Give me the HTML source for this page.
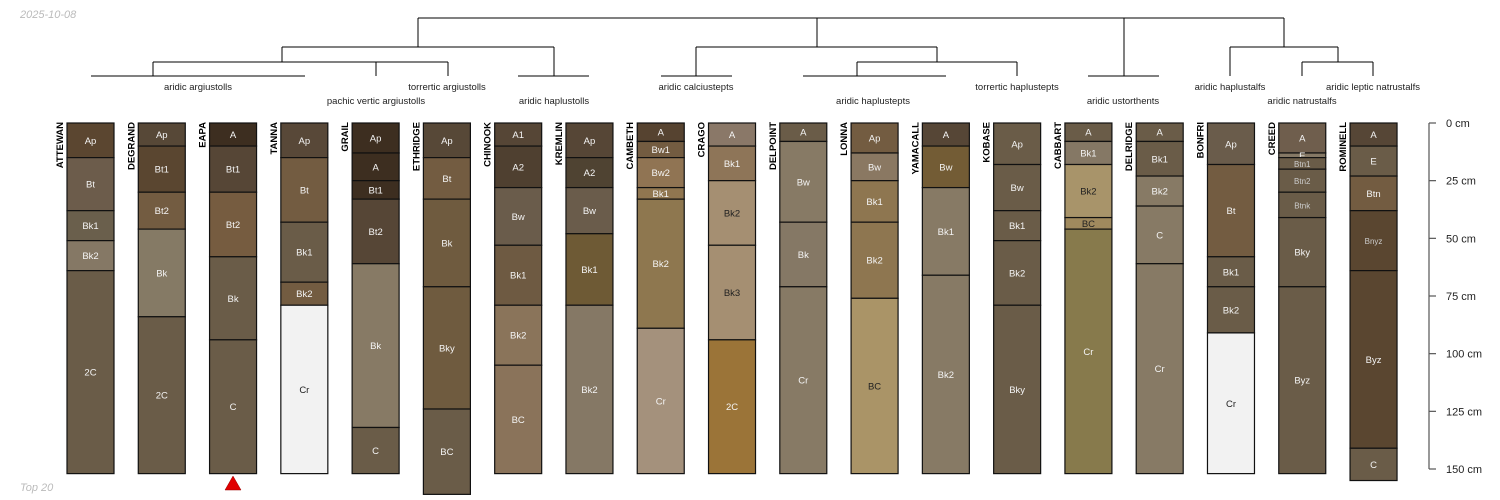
<!DOCTYPE html>
<html><head><meta charset="utf-8">
<style>
html,body{margin:0;padding:0;background:#fff;}
svg{display:block;font-family:"Liberation Sans",sans-serif;}
</style></head>
<body>
<svg id="chart" width="1500" height="500" viewBox="0 0 1500 500">
<text x="20" y="18" font-size="11" font-style="italic" fill="#bbb">2025-10-08</text>
<text x="20" y="491" font-size="11" font-style="italic" fill="#bbb">Top 20</text>
<g id="dendro" stroke="#000" stroke-width="1" fill="none"></g>
<g id="taxa" font-size="9.5" fill="#222" text-anchor="middle"></g>
<g id="profiles"></g>
<g id="axis"></g>
<polygon points="225,490 241,490 233,476" fill="#e00000" stroke="#900" stroke-width="0.5"/>
</svg>
<script>
const profileNames = ["ATTEWAN","DEGRAND","EAPA","TANNA","GRAIL","ETHRIDGE","CHINOOK","KREMLIN","CAMBETH","CRAGO","DELPOINT","LONNA","YAMACALL","KOBASE","CABBART","DELRIDGE","BONFRI","CREED","ROMINELL"];
const horizonNames = [
 ["Ap","Bt","Bk1","Bk2","2C"],
 ["Ap","Bt1","Bt2","Bk","2C"],
 ["A","Bt1","Bt2","Bk","C"],
 ["Ap","Bt","Bk1","Bk2","Cr"],
 ["Ap","A","Bt1","Bt2","Bk","C"],
 ["Ap","Bt","Bk","Bky","BC"],
 ["A1","A2","Bw","Bk1","Bk2","BC"],
 ["Ap","A2","Bw","Bk1","Bk2"],
 ["A","Bw1","Bw2","Bk1","Bk2","Cr"],
 ["A","Bk1","Bk2","Bk3","2C"],
 ["A","Bw","Bk","Cr"],
 ["Ap","Bw","Bk1","Bk2","BC"],
 ["A","Bw","Bk1","Bk2"],
 ["Ap","Bw","Bk1","Bk2","Bky"],
 ["A","Bk1","Bk2","BC","Cr"],
 ["A","Bk1","Bk2","C","Cr"],
 ["Ap","Bt","Bk1","Bk2","Cr"],
 ["A","E","Btn1","Btn2","Btnk","Bky","Byz"],
 ["A","E","Btn","Bnyz","Byz","C"]
];
const horizonBottoms = [
 [15,38,51,64,152],
 [10,30,46,84,152],
 [10,30,58,94,152],
 [15,43,69,79,152],
 [13,25,33,61,132,152],
 [15,33,71,124,161],
 [10,28,53,79,105,152],
 [15,28,48,79,152],
 [8,15,28,33,89,152],
 [10,25,53,94,152],
 [8,43,71,152],
 [13,25,43,76,152],
 [10,28,66,152],
 [18,38,51,79,152],
 [8,18,41,46,152],
 [8,23,36,61,152],
 [18,58,71,91,152],
 [13,15,20,30,41,71,152],
 [10,23,38,64,141,155]
];
const horizonColors = [
 ["#5b4630","#6c5c4b","#6a5f4c","#857865","#6a5c48"],
 ["#574837","#5a4630","#735c41","#857a65","#6a5c48"],
 ["#3d2e20","#564636","#765c40","#6a5c48","#6a5c48"],
 ["#584838","#735c41","#6a5c48","#735c41","#f2f2f2"],
 ["#3d2e20","#3d2e20","#3d2e20","#564636","#877a65","#6a5c48"],
 ["#574837","#735c41","#6f5b3f","#6f5b3f","#6a5c48"],
 ["#564636","#4f4030","#6a5c4b","#6e5a42","#8a745a","#8a735a"],
 ["#564636","#4f4332","#6a5c4b","#6e5a35","#857865"],
 ["#564330","#735c41","#907453","#907650","#8e774f","#a4917c"],
 ["#8a7868","#8e7558","#a58f72","#a58f72","#9b7438"],
 ["#6a5c48","#877a65","#857865","#877a65"],
 ["#735c41","#8a7862","#8e7650","#8e7650","#aa9467"],
 ["#564636","#735c35","#877a65","#877a65"],
 ["#6a5c48","#6a5c48","#6a5c48","#6a5c48","#6a5c48"],
 ["#6a5c48","#857865","#a8946a","#a08a5e","#877a4c"],
 ["#6a5c48","#6a5c48","#877a65","#877a65","#877a65"],
 ["#6a5c4b","#735c41","#6a5c48","#6a5c48","#f2f2f2"],
 ["#6f5e4d","#857865","#6a5c48","#6a5c48","#6a5c48","#6a5c48","#6a5c48"],
 ["#564636","#6a5c48","#735c41","#5a4630","#5a4630","#6a5c48"]
];
const depthTicks = [0,25,50,75,100,125,150];
const darkText = {"#f2f2f2":1,"#a58f72":1,"#aa9467":1,"#a8946a":1,"#a08a5e":1};

const NS="http://www.w3.org/2000/svg";
const svg=document.getElementById('chart');
const y0=123, pxPerCm=346/150, x0=67, step=71.28, colW=47;
const yScale=d=>y0+d*pxPerCm;
const xScale=i=>x0+i*step;
function mk(tag,attrs,parent){const e=document.createElementNS(NS,tag);for(const k in attrs)e.setAttribute(k,attrs[k]);parent.appendChild(e);return e;}

const prof=document.getElementById('profiles');
profileNames.forEach((name,i)=>{
  const g=mk('g',{},prof);
  
  
  const x=xScale(i);
  let top=0;
  horizonBottoms[i].forEach((bot,j)=>{
    const r=mk('rect',{x:x,y:yScale(top),width:colW,height:yScale(bot)-yScale(top),fill:horizonColors[i][j],stroke:'#111','stroke-width':1.2},g);
    
    
    const small=(name==="CREED"&&j>=2&&j<=4)||(name==="ROMINELL"&&j===3);
    const t=mk('text',{x:x+colW/2,y:(yScale(top)+yScale(bot))/2+3.5,'font-size':small?8:9.5,'text-anchor':'middle',fill:darkText[horizonColors[i][j]]?'#222':(small?'#ccc':'#f4f4f4')},g);
    t.textContent=horizonNames[i][j];
    
    
    top=bot;
  });
  const lbl=mk('text',{x:0,y:0,'font-size':9.5,'font-weight':'bold','text-anchor':'end',fill:'#000',transform:`translate(${x-4},${y0-1}) rotate(-90)`},g);
  lbl.textContent=name;
  
  
});

const ax=document.getElementById('axis');
mk('line',{x1:1429,y1:yScale(0),x2:1429,y2:yScale(150),stroke:'#555','stroke-width':1.2},ax);
depthTicks.forEach(d=>{
  const tk=mk('line',{x1:1429,y1:yScale(d),x2:1436,y2:yScale(d),stroke:'#555','stroke-width':1.2},ax);
  
  
  const t=mk('text',{x:1446,y:yScale(d)+4,'font-size':11,fill:'#222'},ax);
  t.textContent=d+' cm';
  
  
});

const segs=[
 [418,18,1284,18],[418,18,418,47],[817,18,817,47],[1124,18,1124,76],[1284,18,1284,47],
 [282,47,554,47],[282,47,282,62],[554,47,554,76],
 [153,62,448,62],[153,62,153,76],[376,62,376,76],[448,62,448,76],
 [91,76,305,76],[518,76,589,76],
 [696,47,937,47],[696,47,696,76],[661,76,732,76],
 [857,62,1017,62],[937,47,937,62],[857,62,857,76],[1017,62,1017,76],[803,76,946,76],
 [1088,76,1159,76],
 [1230,47,1338,47],[1230,47,1230,76],[1338,47,1338,62],[1302,62,1373,62],[1302,62,1302,76],[1373,62,1373,76]
];
const dg=document.getElementById('dendro');
segs.forEach(s=>{const l=mk('line',{x1:s[0],y1:s[1],x2:s[2],y2:s[3]},dg);
  
  });

const taxa=[["aridic argiustolls",198,90],["torrertic argiustolls",447,90],["pachic vertic argiustolls",376,104],["aridic haplustolls",554,104],
["aridic calciustepts",696,90],["aridic haplustepts",873,104],["torrertic haplustepts",1017,90],["aridic ustorthents",1123,104],
["aridic haplustalfs",1230,90],["aridic natrustalfs",1302,104],["aridic leptic natrustalfs",1373,90]];
const tg=document.getElementById('taxa');
taxa.forEach(t=>{const e=mk('text',{x:t[1],y:t[2]},tg);e.textContent=t[0];
  
  });
</script>
</body></html>
